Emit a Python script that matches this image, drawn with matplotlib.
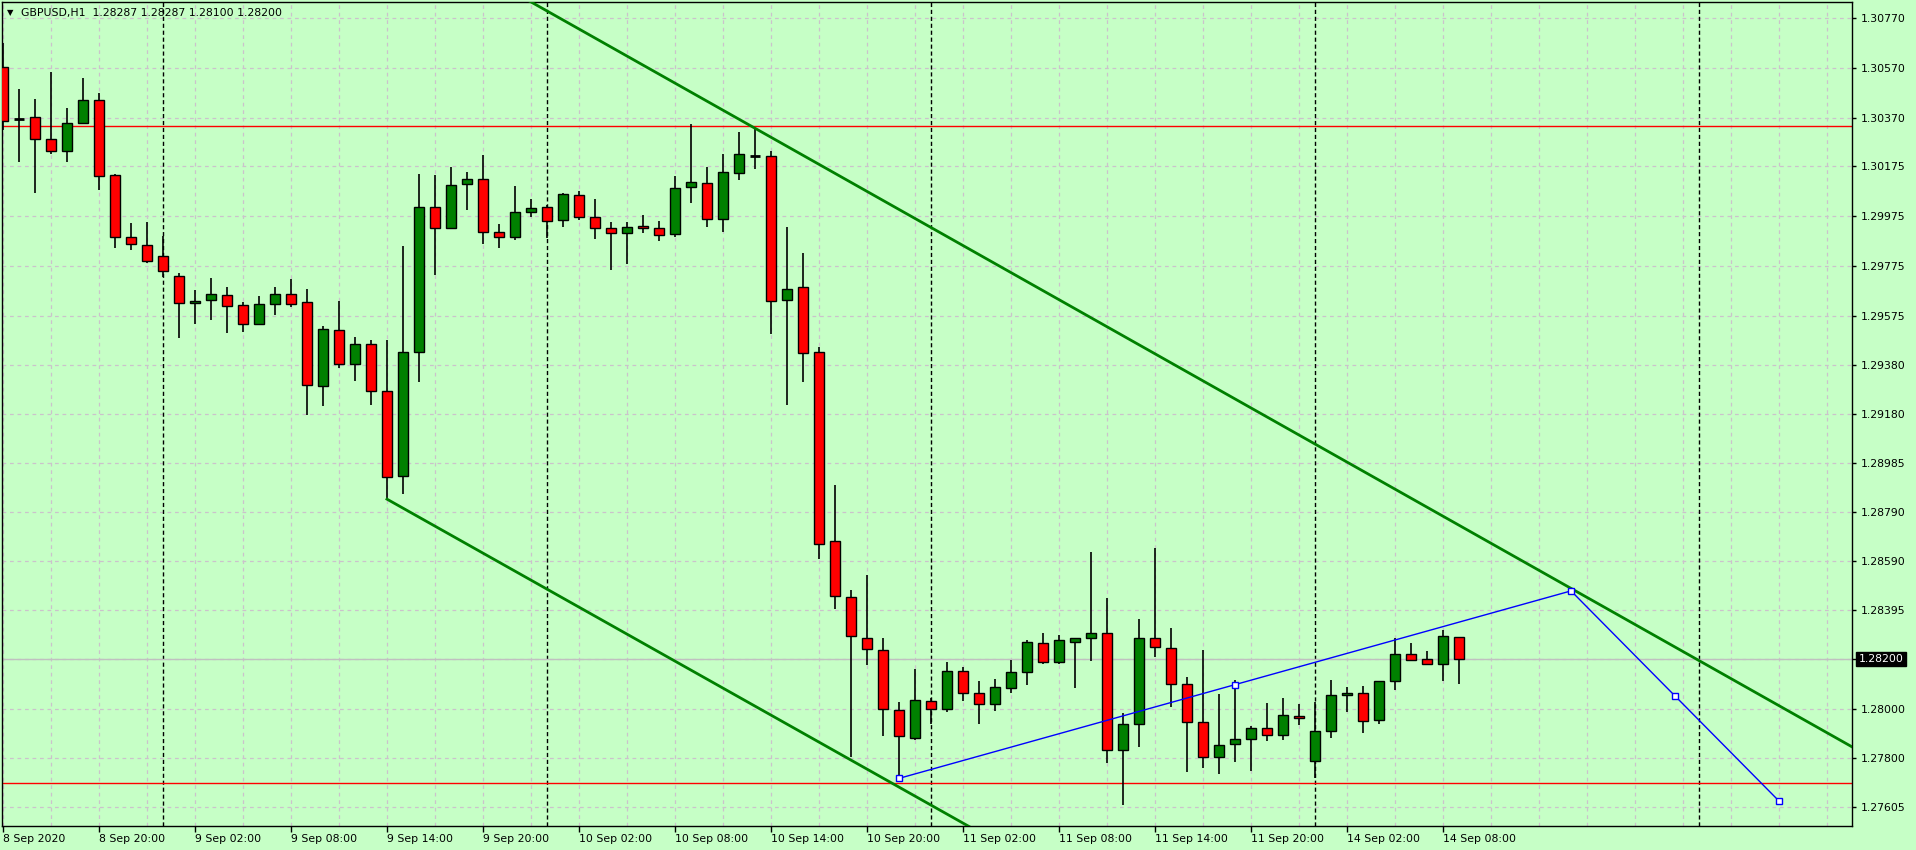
import matplotlib
matplotlib.use('Agg')
import matplotlib.pyplot as plt
import matplotlib.transforms as mtransforms
import numpy as np

# GBPUSD H1 candles, 8 Sep 14:00 .. 14 Sep 09:00 (weekend skipped)
opens = [1.30573, 1.30366, 1.30372, 1.30283, 1.30235, 1.30348, 1.30440, 1.30139, 1.29890, 1.29858,
         1.29814, 1.29734, 1.29626, 1.29638, 1.29658, 1.29618, 1.29544, 1.29622, 1.29662, 1.29630,
         1.29293, 1.29517, 1.29381, 1.29461, 1.29273, 1.28934, 1.29429, 1.30011, 1.29927, 1.30103,
         1.30123, 1.29910, 1.29890, 1.29991, 1.30011, 1.29959, 1.30059, 1.29971, 1.29927, 1.29906,
         1.29935, 1.29927, 1.29902, 1.30091, 1.30107, 1.29963, 1.30147, 1.30218, 1.30215, 1.29638,
         1.29690, 1.29429, 1.28671, 1.28446, 1.28282, 1.28234, 1.27993, 1.27881, 1.28029, 1.27997,
         1.28150, 1.28061, 1.28017, 1.28081, 1.28146, 1.28262, 1.28186, 1.28266, 1.28282, 1.28302,
         1.27834, 1.27937, 1.28282, 1.28242, 1.28098, 1.27945, 1.27805, 1.27857, 1.27877, 1.27921,
         1.27893, 1.27969, 1.27789, 1.27909, 1.28053, 1.28061, 1.27953, 1.28110, 1.28218, 1.28198,
         1.28178, 1.28287]
highs = [1.30670, 1.30484, 1.30445, 1.30553, 1.30409, 1.30529, 1.30469, 1.30143, 1.29948, 1.29952,
         1.29894, 1.29747, 1.29679, 1.29727, 1.29690, 1.29630, 1.29654, 1.29690, 1.29723, 1.29683,
         1.29535, 1.29635, 1.29489, 1.29477, 1.29477, 1.29854, 1.30143, 1.30139, 1.30171, 1.30151,
         1.30219, 1.29943, 1.30095, 1.30043, 1.30020, 1.30067, 1.30075, 1.30043, 1.29951, 1.29951,
         1.29979, 1.29955, 1.30135, 1.30344, 1.30171, 1.30223, 1.30312, 1.30324, 1.30235, 1.29930,
         1.29826, 1.29449, 1.28896, 1.28475, 1.28536, 1.28282, 1.28025, 1.28158, 1.28041, 1.28186,
         1.28166, 1.28110, 1.28118, 1.28194, 1.28274, 1.28302, 1.28294, 1.28282, 1.28627, 1.28444,
         1.27981, 1.28358, 1.28643, 1.28322, 1.28126, 1.28234, 1.28057, 1.28114, 1.27929, 1.28021,
         1.28041, 1.28017, 1.28025, 1.28114, 1.28085, 1.28089, 1.28110, 1.28282, 1.28262, 1.28230,
         1.28314, 1.28287]
lows = [1.30321, 1.30194, 1.30069, 1.30226, 1.30194, 1.30348, 1.30081, 1.29849, 1.29841, 1.29789,
        1.29732, 1.29488, 1.29544, 1.29560, 1.29508, 1.29512, 1.29540, 1.29579, 1.29610, 1.29179,
        1.29215, 1.29366, 1.29315, 1.29218, 1.28840, 1.28861, 1.29311, 1.29740, 1.29927, 1.30001,
        1.29862, 1.29846, 1.29878, 1.29971, 1.29886, 1.29930, 1.29959, 1.29882, 1.29758, 1.29782,
        1.29906, 1.29874, 1.29890, 1.30027, 1.29930, 1.29910, 1.30119, 1.30163, 1.29501, 1.29217,
        1.29311, 1.28601, 1.28401, 1.27807, 1.28176, 1.27891, 1.27720, 1.27873, 1.27937, 1.27985,
        1.28029, 1.27937, 1.27989, 1.28061, 1.28094, 1.28178, 1.28178, 1.28081, 1.28190, 1.27783,
        1.27615, 1.27847, 1.28206, 1.28008, 1.27747, 1.27761, 1.27737, 1.27785, 1.27751, 1.27869,
        1.27873, 1.27933, 1.27720, 1.27881, 1.27985, 1.27901, 1.27937, 1.28073, 1.28190, 1.28174,
        1.28110, 1.28100]
closes = [1.30357, 1.30366, 1.30283, 1.30235, 1.30348, 1.30440, 1.30135, 1.29890, 1.29862, 1.29794,
          1.29754, 1.29626, 1.29634, 1.29662, 1.29614, 1.29541, 1.29622, 1.29662, 1.29622, 1.29297,
          1.29521, 1.29381, 1.29461, 1.29273, 1.28930, 1.29429, 1.30011, 1.29927, 1.30099, 1.30123,
          1.29910, 1.29890, 1.29991, 1.30007, 1.29955, 1.30063, 1.29971, 1.29927, 1.29906, 1.29930,
          1.29927, 1.29898, 1.30087, 1.30111, 1.29963, 1.30151, 1.30223, 1.30218, 1.29634, 1.29682,
          1.29425, 1.28660, 1.28450, 1.28290, 1.28238, 1.27997, 1.27889, 1.28033, 1.27997, 1.28150,
          1.28061, 1.28017, 1.28085, 1.28146, 1.28266, 1.28186, 1.28274, 1.28282, 1.28302, 1.27834,
          1.27937, 1.28282, 1.28246, 1.28098, 1.27945, 1.27805, 1.27853, 1.27877, 1.27921, 1.27893,
          1.27973, 1.27961, 1.27909, 1.28053, 1.28061, 1.27949, 1.28110, 1.28218, 1.28194, 1.28178,
          1.28290, 1.28200]

symbol = 'GBPUSD,H1'

# time axis (bar index of each label)
xtick_bars = [0, 6, 12, 18, 24, 30, 36, 42, 48, 54, 60, 66, 72, 78, 84, 90]
xtick_labels = ['8 Sep 2020', '8 Sep 20:00', '9 Sep 02:00', '9 Sep 08:00', '9 Sep 14:00',
                '9 Sep 20:00', '10 Sep 02:00', '10 Sep 08:00', '10 Sep 14:00', '10 Sep 20:00',
                '11 Sep 02:00', '11 Sep 08:00', '11 Sep 14:00', '11 Sep 20:00', '14 Sep 02:00',
                '14 Sep 08:00']
day_breaks = [10, 34, 58, 82, 106]

# price axis
ytick_values = [1.30770, 1.30570, 1.30370, 1.30175, 1.29975, 1.29775, 1.29575, 1.29380, 1.29180,
                1.28985, 1.28790, 1.28590, 1.28395, 1.28200, 1.28000, 1.27800, 1.27605]
ytick_labels = ['1.30770', '1.30570', '1.30370', '1.30175', '1.29975', '1.29775', '1.29575',
                '1.29380', '1.29180', '1.28985', '1.28790', '1.28590', '1.28395', '',
                '1.28000', '1.27800', '1.27605']

# drawn objects
hlines_red = [1.30337, 1.27701]
channel_bars = [24, 98]
channel_lower = [1.28840, 1.26169]
channel_upper = [1.31160, 1.28482]
trend_bars = [56, 98, 111]
trend_prices = [1.27720, 1.28472, 1.27629]

BG = '#c6ffc6'
GRID = '#cbc2cb'
UP = '#008000'
DOWN = '#ff0000'

plt.rcParams['font.family'] = 'DejaVu Sans'
FS = 7.8

fig = plt.figure(figsize=(19.16, 8.5), dpi=100, facecolor=BG)
ax = fig.add_axes([2 / 1916, 24 / 850, 1850 / 1916, 824 / 850], facecolor=BG)
ax.set_xlim(-0.06, 115.56)
ax.set_ylim(1.27529, 1.30834)

# grid
for gx in range(0, 117, 3):
    ax.axvline(gx, color=GRID, lw=0.9, ls=(0, (3, 3)), zorder=0)
for gy in ytick_values:
    ax.axhline(gy, color=GRID, lw=0.9, ls=(0, (3, 3)), zorder=0)
for d in day_breaks:
    ax.axvline(d, color='black', lw=1, ls=(0, (3, 2)), zorder=1)

# current price line
ax.axhline(closes[-1], color='#c0c0c0', lw=1, zorder=1)
for h in hlines_red:
    ax.axhline(h, color='red', lw=1, zorder=2)

# candles
x = np.arange(len(opens))
o = np.array(opens)
c = np.array(closes)
ax.vlines(x, lows, highs, color='black', lw=1.2, zorder=3)
up = c > o
down = c < o
doji = c == o
ax.bar(x[up], c[up] - o[up], bottom=o[up], width=0.6, color=UP, edgecolor='black', lw=1, zorder=4)
ax.bar(x[down], o[down] - c[down], bottom=c[down], width=0.6, color=DOWN, edgecolor='black', lw=1, zorder=4)
ax.hlines(c[doji], x[doji] - 0.32, x[doji] + 0.32, color='black', lw=2, zorder=4)

# channel (rays to the right)
x_far = 120
for line in (channel_lower, channel_upper):
    slope = (line[1] - line[0]) / (channel_bars[1] - channel_bars[0])
    ax.plot([channel_bars[0], x_far], [line[0], line[0] + slope * (x_far - channel_bars[0])],
            color=UP, lw=2, zorder=5)

# blue trendlines with handles
ax.plot(trend_bars, trend_prices, color='blue', lw=1, zorder=6)
handle_x = [trend_bars[0], np.mean(trend_bars[:2]), trend_bars[1], np.mean(trend_bars[1:]), trend_bars[2]]
handle_y = [trend_prices[0], np.mean(trend_prices[:2]), trend_prices[1], np.mean(trend_prices[1:]), trend_prices[2]]
ax.plot(handle_x, handle_y, ls='none', marker='s', ms=4.5, mfc='white', mec='blue', mew=1, zorder=7)

# axes
ax.yaxis.tick_right()
ax.set_yticks(ytick_values, ytick_labels)
ax.set_xticks(xtick_bars, xtick_labels)
ax.tick_params(axis='y', direction='out', length=3, width=1, pad=3, labelsize=FS)
ax.tick_params(axis='x', direction='out', length=4, width=1, pad=2, labelsize=FS)
plt.setp(ax.get_xticklabels(), ha='left')
for s in ax.spines.values():
    s.set_color('black')
    s.set_linewidth(1)

# current price label
trans = mtransforms.blended_transform_factory(ax.transAxes, ax.transData)
ax.text(1.0035, closes[-1], f'{closes[-1]:.5f}', transform=trans, color='white', fontsize=FS,
        va='center', ha='left', clip_on=False,
        bbox=dict(boxstyle='square,pad=0.2', fc='black', ec='black'))

# header
fig.text(7 / 1916, 1 - 13 / 850, '▼', fontsize=6, va='center', ha='left')
header = f'{symbol}  {opens[-1]:.5f} {highs[-1]:.5f} {lows[-1]:.5f} {closes[-1]:.5f}'
fig.text(21 / 1916, 1 - 13 / 850, header, fontsize=FS, va='center', ha='left')

fig.savefig('out.png', dpi=100, facecolor=BG)
